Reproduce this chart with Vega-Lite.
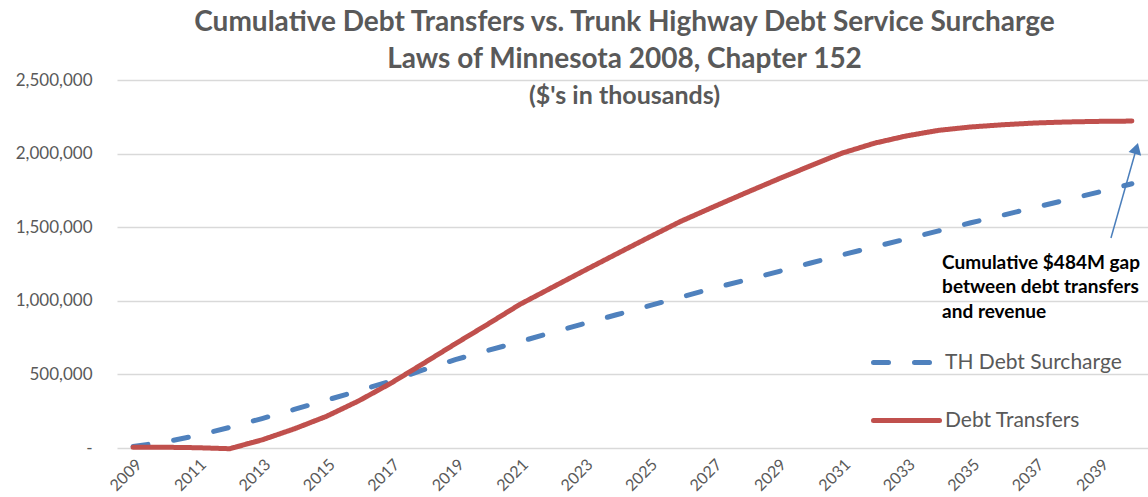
{
  "$schema": "https://vega.github.io/schema/vega-lite/v6.json",
  "autosize": {"type": "none"},
  "width": 1031,
  "height": 368,
  "padding": {"left": 117, "top": 80, "right": 0, "bottom": 49},
  "background": "white",
  "config": {"view": {"stroke": null}, "font": "Lato"},
  "title": {
    "text": ["Cumulative Debt Transfers vs. Trunk Highway Debt Service Surcharge", "Laws of Minnesota 2008, Chapter 152"],
    "subtitle": "($'s in thousands)",
    "anchor": "middle",
    "dx": -8,
    "offset": -38,
    "font": "Lato",
    "fontSize": 28,
    "fontWeight": "bold",
    "color": "#595959",
    "lineHeight": 37,
    "subtitleFont": "Lato",
    "subtitleFontSize": 25,
    "subtitleFontWeight": "bold",
    "subtitleColor": "#595959",
    "subtitlePadding": 10
  },
  "datasets": {
    "series": [
      {"year": 2009, "series": "TH Debt Surcharge", "value": 10000},
      {"year": 2010, "series": "TH Debt Surcharge", "value": 42000},
      {"year": 2011, "series": "TH Debt Surcharge", "value": 85000},
      {"year": 2012, "series": "TH Debt Surcharge", "value": 140000},
      {"year": 2013, "series": "TH Debt Surcharge", "value": 200000},
      {"year": 2014, "series": "TH Debt Surcharge", "value": 262000},
      {"year": 2015, "series": "TH Debt Surcharge", "value": 325000},
      {"year": 2016, "series": "TH Debt Surcharge", "value": 388000},
      {"year": 2017, "series": "TH Debt Surcharge", "value": 455000},
      {"year": 2018, "series": "TH Debt Surcharge", "value": 530000},
      {"year": 2019, "series": "TH Debt Surcharge", "value": 600000},
      {"year": 2020, "series": "TH Debt Surcharge", "value": 662000},
      {"year": 2021, "series": "TH Debt Surcharge", "value": 722000},
      {"year": 2022, "series": "TH Debt Surcharge", "value": 785000},
      {"year": 2023, "series": "TH Debt Surcharge", "value": 845000},
      {"year": 2024, "series": "TH Debt Surcharge", "value": 905000},
      {"year": 2025, "series": "TH Debt Surcharge", "value": 965000},
      {"year": 2026, "series": "TH Debt Surcharge", "value": 1025000},
      {"year": 2027, "series": "TH Debt Surcharge", "value": 1085000},
      {"year": 2028, "series": "TH Debt Surcharge", "value": 1140000},
      {"year": 2029, "series": "TH Debt Surcharge", "value": 1197000},
      {"year": 2030, "series": "TH Debt Surcharge", "value": 1255000},
      {"year": 2031, "series": "TH Debt Surcharge", "value": 1312000},
      {"year": 2032, "series": "TH Debt Surcharge", "value": 1366000},
      {"year": 2033, "series": "TH Debt Surcharge", "value": 1420000},
      {"year": 2034, "series": "TH Debt Surcharge", "value": 1475000},
      {"year": 2035, "series": "TH Debt Surcharge", "value": 1530000},
      {"year": 2036, "series": "TH Debt Surcharge", "value": 1582000},
      {"year": 2037, "series": "TH Debt Surcharge", "value": 1635000},
      {"year": 2038, "series": "TH Debt Surcharge", "value": 1687000},
      {"year": 2039, "series": "TH Debt Surcharge", "value": 1740000},
      {"year": 2040, "series": "TH Debt Surcharge", "value": 1795000},
      {"year": 2009, "series": "Debt Transfers", "value": 5000},
      {"year": 2010, "series": "Debt Transfers", "value": 5000},
      {"year": 2011, "series": "Debt Transfers", "value": 2000},
      {"year": 2012, "series": "Debt Transfers", "value": -5000},
      {"year": 2013, "series": "Debt Transfers", "value": 55000},
      {"year": 2014, "series": "Debt Transfers", "value": 130000},
      {"year": 2015, "series": "Debt Transfers", "value": 215000},
      {"year": 2016, "series": "Debt Transfers", "value": 320000},
      {"year": 2017, "series": "Debt Transfers", "value": 440000},
      {"year": 2018, "series": "Debt Transfers", "value": 573000},
      {"year": 2019, "series": "Debt Transfers", "value": 708000},
      {"year": 2020, "series": "Debt Transfers", "value": 840000},
      {"year": 2021, "series": "Debt Transfers", "value": 975000},
      {"year": 2022, "series": "Debt Transfers", "value": 1090000},
      {"year": 2023, "series": "Debt Transfers", "value": 1205000},
      {"year": 2024, "series": "Debt Transfers", "value": 1318000},
      {"year": 2025, "series": "Debt Transfers", "value": 1430000},
      {"year": 2026, "series": "Debt Transfers", "value": 1540000},
      {"year": 2027, "series": "Debt Transfers", "value": 1637000},
      {"year": 2028, "series": "Debt Transfers", "value": 1732000},
      {"year": 2029, "series": "Debt Transfers", "value": 1825000},
      {"year": 2030, "series": "Debt Transfers", "value": 1915000},
      {"year": 2031, "series": "Debt Transfers", "value": 2003000},
      {"year": 2032, "series": "Debt Transfers", "value": 2070000},
      {"year": 2033, "series": "Debt Transfers", "value": 2120000},
      {"year": 2034, "series": "Debt Transfers", "value": 2158000},
      {"year": 2035, "series": "Debt Transfers", "value": 2181000},
      {"year": 2036, "series": "Debt Transfers", "value": 2196000},
      {"year": 2037, "series": "Debt Transfers", "value": 2208000},
      {"year": 2038, "series": "Debt Transfers", "value": 2215000},
      {"year": 2039, "series": "Debt Transfers", "value": 2219000},
      {"year": 2040, "series": "Debt Transfers", "value": 2221000}
    ],
    "arrow": [{"x": 2039.35, "y": 1427000, "x2": 2040.14, "y2": 2035000}],
    "arrowhead": [{"x": 2040.14, "y": 2035000}],
    "note": [{"x": 2034.11, "y": 1257000, "label": "Cumulative $484M gap\nbetween debt transfers\nand revenue"}]
  },
  "layer": [
    {
      "data": {"name": "series"},
      "mark": {"type": "line", "strokeWidth": 5, "strokeCap": "round", "strokeJoin": "round"},
      "encoding": {
        "x": {
          "field": "year", "type": "quantitative",
          "scale": {"domain": [2008.5, 2040.5], "nice": false, "zero": false},
          "axis": {
            "values": [2009, 2011, 2013, 2015, 2017, 2019, 2021, 2023, 2025, 2027, 2029, 2031, 2033, 2035, 2037, 2039],
            "format": "d", "labelAngle": -45, "grid": false, "domain": false, "ticks": false,
            "labelFontSize": 16, "labelColor": "#595959", "labelPadding": 8, "title": null, "labelFont": "Lato"
          }
        },
        "y": {
          "field": "value", "type": "quantitative",
          "scale": {"domain": [0, 2500000], "nice": false},
          "axis": {
            "values": [0, 500000, 1000000, 1500000, 2000000, 2500000],
            "labelExpr": "datum.value == 0 ? '-\u00a0\u00a0\u00a0' : format(datum.value, ',')",
            "grid": true, "gridColor": "#D9D9D9", "gridWidth": 1.3, "domain": false, "ticks": false,
            "labelFontSize": 17, "labelColor": "#595959", "labelPadding": 25, "title": null, "labelFont": "Lato"
          }
        },
        "color": {
          "field": "series", "type": "nominal",
          "scale": {"domain": ["TH Debt Surcharge", "Debt Transfers"], "range": ["#4F81BD", "#C0504D"]},
          "legend": {
            "orient": "none", "legendX": 754, "legendY": 247, "title": null,
            "symbolType": "stroke", "symbolSize": 4356, "symbolStrokeWidth": 5,
            "labelFontSize": 21, "labelColor": "#595959", "labelFont": "Lato", "labelOffset": 3, "labelLimit": 400,
            "rowPadding": 12, "padding": 0,
            "encode": {"symbols": {"update": {"strokeCap": {"value": "round"}}}}
          }
        },
        "strokeDash": {
          "field": "series", "type": "nominal",
          "scale": {"domain": ["TH Debt Surcharge", "Debt Transfers"], "range": [[15, 26], [1, 0]]},
          "legend": null
        }
      }
    },
    {
      "data": {"name": "arrow"},
      "mark": {"type": "rule", "color": "#4A7EBB", "strokeWidth": 1.5},
      "encoding": {
        "x": {"field": "x", "type": "quantitative"},
        "y": {"field": "y", "type": "quantitative"},
        "x2": {"field": "x2"},
        "y2": {"field": "y2"}
      }
    },
    {
      "data": {"name": "arrowhead"},
      "mark": {"type": "point", "shape": "triangle-up", "filled": true, "color": "#4A7EBB", "size": 170, "angle": 16, "opacity": 1},
      "encoding": {
        "x": {"field": "x", "type": "quantitative"},
        "y": {"field": "y", "type": "quantitative"}
      }
    },
    {
      "data": {"name": "note"},
      "mark": {"type": "text", "align": "left", "baseline": "middle", "lineBreak": "\n", "lineHeight": 24.5, "font": "Lato", "fontWeight": "bold", "fontSize": 19, "color": "#000000"},
      "encoding": {
        "x": {"field": "x", "type": "quantitative"},
        "y": {"field": "y", "type": "quantitative"},
        "text": {"field": "label", "type": "nominal"}
      }
    }
  ]
}
